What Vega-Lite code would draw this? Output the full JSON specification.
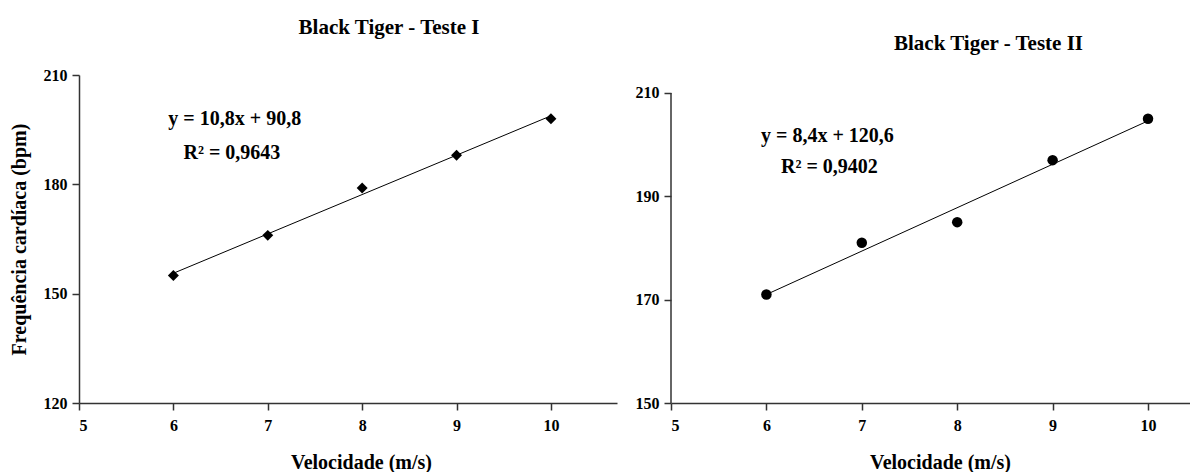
{
  "$schema": "https://vega.github.io/schema/vega-lite/v6.json",
  "background": "white",
  "padding": {"left": 9, "top": 17, "right": 0, "bottom": 0},
  "config": {
    "font": "Liberation Serif",
    "view": {"stroke": null},
    "axis": {
      "labelFont": "Liberation Serif", "labelFontSize": 16, "labelFontWeight": "bold", "labelColor": "#000",
      "titleFont": "Liberation Serif", "titleFontSize": 20, "titleFontWeight": "bold", "titleColor": "#000",
      "domainColor": "#333", "domainWidth": 1.5, "tickColor": "#333", "tickWidth": 1.5, "tickSize": 7,
      "grid": false, "labelPadding": 5
    },
    "title": {"font": "Liberation Serif", "fontSize": 21, "fontWeight": "bold", "color": "#000", "anchor": "middle"}
  },
  "datasets": {
    "pts1": [
      {"x": 6, "y": 155}, {"x": 7, "y": 166}, {"x": 8, "y": 179}, {"x": 9, "y": 188}, {"x": 10, "y": 198}
    ],
    "fit1": [{"x": 6, "y": 155.6}, {"x": 10, "y": 198.8}],
    "ann1": [
      {"x": 6.65, "y": 197.9, "label": "y = 10,8x + 90,8"},
      {"x": 6.62, "y": 188.6, "label": "R² = 0,9643"}
    ],
    "pts2": [
      {"x": 6, "y": 171}, {"x": 7, "y": 181}, {"x": 8, "y": 185}, {"x": 9, "y": 197}, {"x": 10, "y": 205}
    ],
    "fit2": [{"x": 6, "y": 171.0}, {"x": 10, "y": 204.6}],
    "ann2": [
      {"x": 6.64, "y": 201.7, "label": "y = 8,4x + 120,6"},
      {"x": 6.66, "y": 195.7, "label": "R² = 0,9402"}
    ],
    "axis2": [{"x": 5, "y": 150, "y2": 210}]
  },
  "spacing": 18,
  "hconcat": [
    {
      "width": 538, "height": 328,
      "title": {"text": "Black Tiger - Teste I", "dx": 41, "offset": 29},
      "encoding": {
        "x": {"field": "x", "type": "quantitative",
              "scale": {"domain": [5, 10.7], "nice": false, "zero": false},
              "axis": {"values": [5, 6, 7, 8, 9, 10], "title": "Velocidade (m/s)", "labelPadding": 7, "titlePadding": 19, "titleX": 282}},
        "y": {"field": "y", "type": "quantitative",
              "scale": {"domain": [120, 210], "nice": false, "zero": false},
              "axis": {"values": [120, 150, 180, 210], "title": "Frequência cardíaca (bpm)", "titlePadding": 14}}
      },
      "layer": [
        {"data": {"name": "fit1"}, "mark": {"type": "line", "color": "black", "strokeWidth": 1}},
        {"data": {"name": "pts1"}, "mark": {"type": "point", "shape": "diamond", "filled": true, "color": "black", "size": 120, "opacity": 1}},
        {"data": {"name": "ann1"}, "mark": {"type": "text", "font": "Liberation Serif", "fontSize": 20, "fontWeight": "bold", "color": "black", "align": "center", "baseline": "middle"},
         "encoding": {"text": {"field": "label", "type": "nominal"}}}
      ]
    },
    {
      "width": 519, "height": 328,
      "title": {"text": "Black Tiger - Teste II", "dx": 58, "offset": 21},
      "encoding": {
        "x": {"field": "x", "type": "quantitative",
              "scale": {"domain": [5, 10.44], "nice": false, "zero": false},
              "axis": {"values": [5, 6, 7, 8, 9, 10], "title": "Velocidade (m/s)", "labelPadding": 7, "titlePadding": 19, "titleX": 269}},
        "y": {"field": "y", "type": "quantitative",
              "scale": {"domain": [150, 213.48], "nice": false, "zero": false},
              "axis": {"values": [150, 170, 190, 210], "title": null, "domain": false}}
      },
      "layer": [
        {"data": {"name": "axis2"}, "mark": {"type": "rule", "color": "#333", "strokeWidth": 1.5},
         "encoding": {"y2": {"field": "y2"}}},
        {"data": {"name": "fit2"}, "mark": {"type": "line", "color": "black", "strokeWidth": 1}},
        {"data": {"name": "pts2"}, "mark": {"type": "point", "shape": "circle", "filled": true, "color": "black", "size": 110, "opacity": 1}},
        {"data": {"name": "ann2"}, "mark": {"type": "text", "font": "Liberation Serif", "fontSize": 20, "fontWeight": "bold", "color": "black", "align": "center", "baseline": "middle"},
         "encoding": {"text": {"field": "label", "type": "nominal"}}}
      ]
    }
  ]
}
